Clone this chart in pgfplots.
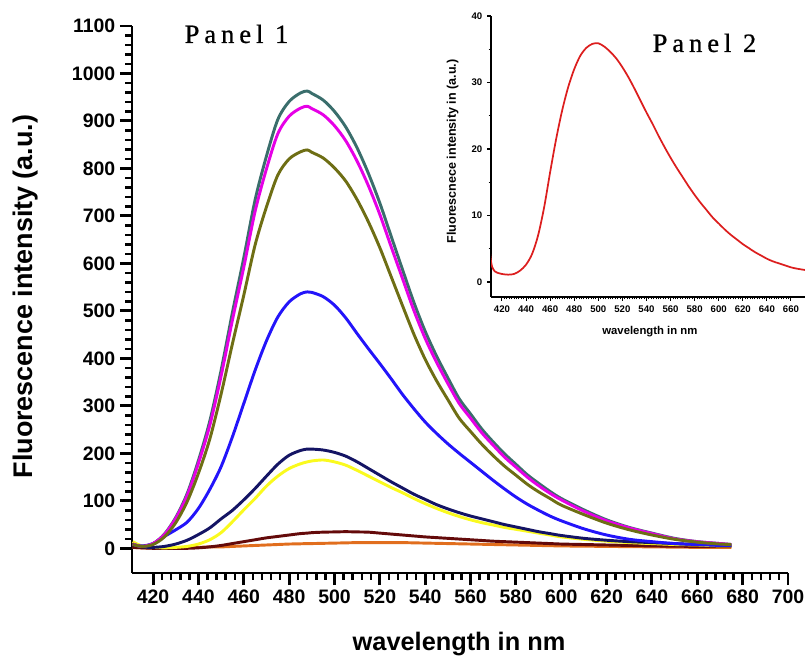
\documentclass[border=0pt]{standalone}
\usepackage{pgfplots}
\usepackage{pgfplotstable}
\usepackage{fontspec}
\pgfplotsset{compat=1.18}
\setmainfont{Liberation Sans}
\newfontfamily\panelfont[LetterSpace=19,FakeBold=0.8]{Liberation Serif}

\definecolor{cteal}{RGB}{58,110,108}
\definecolor{cmag}{RGB}{230,0,230}
\definecolor{colive}{RGB}{110,110,20}
\definecolor{cblue}{RGB}{35,20,250}
\definecolor{cnavy}{RGB}{20,20,100}
\definecolor{cyel}{RGB}{250,250,30}
\definecolor{cmar}{RGB}{100,10,10}
\definecolor{corg}{RGB}{225,110,30}
\definecolor{cred}{RGB}{220,30,30}

% emission spectra, intensity in a.u.
\pgfplotstableread{
wl  teal magenta olive blue navy yellow maroon orange
411 9   9   8   8   8   14  2    2
415 4   4   4   5   3   5   1    1
420 10  10  8   10  2   2   0    1
425 30  29  24  25  4   1   0    1
430 65  63  54  39  9   2   0    1
435 115 111 98  55  17  4   0    2
440 185 179 158 84  29  9   1    2
445 268 259 230 124 43  18  3    3
450 375 363 325 172 62  33  6    3
455 497 481 431 235 80  56  10   4
460 612 592 533 305 102 81  14   5
465 734 710 639 375 126 105 18   6
470 826 799 719 437 152 131 22   7
475 903 873 786 487 177 152 25   8
480 941 910 820 519 196 168 28   9
485 959 927 835 536 206 178 31   9.5
488 963 931 839 540 209 182 32   10
490 958 926 834 539 209 184 33   10
495 944 913 822 530 207 186 34   10.5
500 920 890 801 512 202 182 34.5 11
505 887 858 773 485 194 175 35   11.5
510 843 815 734 452 182 164 34.5 12
515 789 763 687 420 168 152 34   12
520 727 703 633 389 154 140 32   12
525 657 635 572 357 140 128 30   12
530 587 568 511 324 127 117 28   12
535 518 501 451 294 114 105 26   11.5
540 457 442 398 266 103 94  24   11
545 405 392 353 242 92  84  22.5 10.5
550 359 347 313 220 83  75  21   10
555 315 305 274 200 75  67  19.5 9.5
560 283 274 246 181 68  60  18   9
565 251 243 219 162 62  54  16.5 8.5
570 224 217 195 143 56  49  15   8
575 199 192 173 125 50  44  14   7.5
580 177 171 154 108 45  40  13   7
585 155 150 135 93  40  36  12   6.5
590 137 132 119 80  35  32  11   6
595 120 116 105 68  31  28  10   5.5
600 105 102 91  58  27  24  9    5
610 81  78  71  41  21  19  8    4.5
620 60  58  53  28  17  15  7    4
630 44  43  39  19  14  12  6    3.5
640 32  31  28  14  12  10  5    3
650 21  20  19  10  10  8   4.5  2.5
660 14  14  13  8   8   7   4    2
670 10  10  9   6   7   5   4    2
675 8   8   8   6   6   5   4    2
}\spectra

\pgfplotstableread{
wl  I
410 4.5
411 3.0
412 2.2
414 1.6
416 1.4
420 1.2
425 1.1
430 1.2
435 1.7
440 2.6
445 4.2
450 7.0
455 11.2
460 16.5
465 21.5
470 25.8
475 29.3
480 32.0
485 34.0
490 35.2
495 35.8
500 35.9
505 35.4
510 34.6
515 33.6
520 32.3
525 30.8
530 29.1
535 27.3
540 25.5
545 23.8
550 22.0
555 20.3
560 18.7
565 17.2
570 15.8
575 14.4
580 13.1
585 11.9
590 10.8
595 9.7
600 8.8
605 7.9
610 7.1
615 6.4
620 5.7
625 5.1
630 4.5
635 4.0
640 3.5
645 3.1
650 2.8
655 2.5
660 2.2
665 2.0
670 1.85
672 1.8
}\single

\begin{document}
\begin{tikzpicture}
\useasboundingbox (0,0) rectangle (603.75pt,492pt);

\begin{axis}[
  at={(99pt,62.25pt)}, anchor=south west,
  scale only axis, width=492pt, height=410.25pt,
  xmin=410.7, xmax=700, ymin=-52, ymax=1100,
  axis lines=left, axis line style={-, line width=2.2pt},
  enlargelimits=false, clip=false,
  tick align=outside,
  xtick={420,440,...,700}, minor x tick num=4,
  ytick={0,100,...,1100}, minor y tick num=4,
  major tick length=9pt, minor tick length=5pt,
  major tick style={line width=2.2pt, black},
  minor tick style={line width=1.8pt, black},
  scaled ticks=false,
  /pgf/number format/1000 sep={},
  /pgf/number format/assume math mode=true,
  tick label style={font=\fontsize{14.6}{16}\selectfont\bfseries},
  xlabel={wavelength in nm},
  ylabel={Fluorescence intensity (a.u.)},
  xlabel style={font=\fontsize{19}{22}\selectfont\bfseries,
    at={(axis description cs:0.4985,-0.1408)}, anchor=base},
  ylabel style={font=\fontsize{20.2}{24}\selectfont\bfseries,
    at={(axis description cs:-0.1524,0.5055)}, anchor=base, rotate=0},
  every axis plot/.append style={line width=2.2pt, line join=round, smooth, tension=0.5},
]
\addplot[corg]    table[x=wl,y=orange] {\spectra};
\addplot[cmar]    table[x=wl,y=maroon] {\spectra};
\addplot[cyel]    table[x=wl,y=yellow] {\spectra};
\addplot[cnavy]   table[x=wl,y=navy] {\spectra};
\addplot[cblue]   table[x=wl,y=blue] {\spectra};
\addplot[cteal]   table[x=wl,y=teal] {\spectra};
\addplot[cmag]    table[x=wl,y=magenta] {\spectra};
\addplot[colive]  table[x=wl,y=olive] {\spectra};
\node[anchor=base west, font=\fontsize{19.8}{22}\selectfont\panelfont]
  at (axis description cs:0.0732,0.969) {Panel 1};
\end{axis}

\begin{axis}[
  at={(368.25pt,269.25pt)}, anchor=south west,
  scale only axis, width=235.5pt, height=210.75pt,
  xmin=410.9, xmax=671.7, ymin=-2.26, ymax=40,
  axis lines=left, axis line style={-, line width=1.1pt},
  enlargelimits=false,
  tick align=outside,
  xtick={420,440,...,660}, minor x tick num=9,
  ytick={0,10,...,40}, minor y tick num=1,
  major tick length=3pt, minor tick length=1.7pt,
  major tick style={line width=0.8pt, black},
  minor tick style={line width=0.6pt, black},
  scaled ticks=false,
  /pgf/number format/assume math mode=true,
  tick label style={font=\fontsize{7.2}{8}\selectfont\bfseries},
  xlabel={wavelength in nm},
  ylabel={Fluorescnece intensity in (a.u.)},
  xlabel style={font=\fontsize{8.5}{10}\selectfont\bfseries,
    at={(axis description cs:0.506,-0.135)}, anchor=base},
  ylabel style={font=\fontsize{9.4}{11}\selectfont\bfseries,
    at={(axis description cs:-0.1115,0.518)}, anchor=base, rotate=0},
]
\addplot[cred, line width=1.3pt, smooth, tension=0.5] table[x=wl,y=I] {\single};
\node[anchor=base west, font=\fontsize{19.8}{22}\selectfont\panelfont]
  at (axis description cs:0.5,0.872) {Panel 2};
\end{axis}
\end{tikzpicture}
\end{document}
